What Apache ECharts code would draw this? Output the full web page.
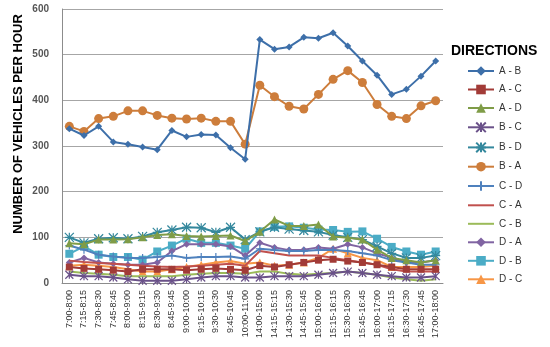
<!DOCTYPE html>
<html>
<head>
    <meta charset="utf-8" />
    <script src="https://cdn.jsdelivr.net/npm/echarts@6/dist/echarts.min.js"></script>
    <style>
        body { margin: 0; background: #fff; }
        #main { width: 550px; height: 347px; }
    </style>
</head>
<body>
    <div id="main"></div>
    <script type="text/javascript">
        // time periods (x axis)
        var periods = ['7:00-8:00', '7:15-8:15', '7:30-8:30', '7:45-8:45', '8:00-9:00', '8:15-9:15',
            '8:30-9:30', '8:45-9:45', '9:00-10:00', '9:15-10:15', '9:30-10:30', '9:45-10:45',
            '10:00-11:00', '14:00-15:00', '14:15-15:15', '14:30-15:30', '14:45-15:45', '15:00-16:00',
            '15:15-16:15', '15:30-16:30', '15:45-16:45', '16:00-17:00', '16:15-17:15', '16:30-17:30',
            '16:45-17:45', '17:00-18:00'];

        var yTicks = [0, 100, 200, 300, 400, 500, 600];

        // vehicles per hour by direction
        var AB = [338, 323, 343, 309, 304, 298, 292, 334, 320, 325, 324, 296, 271, 533, 512, 517, 538, 536, 548, 519, 486, 455, 413, 424, 453, 486];
        var AC = [35, 32, 30, 28, 25, 30, 30, 30, 28, 30, 32, 30, 28, 38, 35, 40, 45, 50, 52, 48, 45, 40, 35, 30, 30, 30];
        var AD = [87, 85, 95, 95, 96, 100, 105, 107, 103, 102, 103, 104, 92, 112, 139, 125, 125, 128, 102, 99, 95, 73, 55, 50, 45, 50];
        var BC = [18, 15, 15, 12, 8, 5, 5, 5, 8, 12, 15, 15, 12, 12, 15, 15, 15, 18, 22, 25, 22, 18, 15, 12, 12, 15];
        var BD = [100, 88, 97, 99, 97, 102, 111, 116, 122, 121, 111, 122, 95, 112, 122, 118, 115, 112, 105, 100, 95, 80, 65, 55, 55, 60];
        var BA = [343, 332, 360, 365, 377, 377, 367, 361, 359, 361, 354, 354, 304, 433, 408, 387, 381, 413, 446, 465, 439, 391, 365, 360, 388, 399];
        var CD = [82, 73, 62, 58, 55, 55, 57, 60, 55, 57, 57, 58, 53, 75, 72, 70, 70, 72, 72, 70, 65, 60, 50, 45, 40, 40];
        var CA = [49, 46, 44, 42, 40, 38, 36, 35, 36, 38, 40, 42, 38, 70, 65, 60, 60, 60, 55, 50, 45, 40, 30, 25, 25, 25];
        var CB = [25, 22, 20, 18, 15, 15, 15, 15, 18, 20, 22, 22, 20, 25, 25, 20, 18, 20, 22, 25, 22, 18, 12, 8, 5, 8];
        var DA = [45, 55, 45, 42, 40, 40, 45, 70, 85, 85, 85, 80, 60, 88, 78, 72, 73, 78, 75, 85, 78, 65, 55, 45, 45, 50];
        var DB = [64, 80, 62, 57, 57, 51, 69, 82, 97, 88, 88, 82, 75, 113, 123, 124, 121, 117, 116, 112, 113, 97, 79, 69, 62, 69];
        var DC = [38, 40, 38, 35, 30, 25, 25, 30, 35, 40, 45, 48, 42, 45, 38, 40, 45, 55, 75, 65, 55, 50, 35, 35, 35, 38];

        var directions = ['A - B', 'A - C', 'A - D', 'B - C', 'B - D', 'B - A', 'C - D', 'C - A', 'C - B', 'D - A', 'D - B', 'D - C'];
        var values = [AB, AC, AD, BC, BD, BA, CD, CA, CB, DA, DB, DC];
        var colors = ['#3D6FA9', '#A23B37', '#7F9C47', '#6A5189', '#34889D', '#CD7D3B',
            '#4F81BD', '#C0504D', '#9BBB59', '#8064A2', '#4BACC6', '#F79646'];
        var symbols = ['diamond', 'rect', 'triangle',
            'path://M0,0L10,10M10,0L0,10M5,0L5,10',
            'path://M0,0L10,10M10,0L0,10M5,0L5,10M0,5L10,5',
            'circle',
            'path://M5,0L5,10M0,5L10,5',
            'none', 'none', 'diamond', 'rect', 'triangle'];
        var sizes = [7, 7, 8, 8, 9, 9, 8, 0, 0, 7, 8, 8];

        var series = [];
        var legendData = [];
        for (var i = 0; i < directions.length; i++) {
            var lineSym = symbols[i].indexOf('path://') == 0;
            series.push({
                name: directions[i],
                type: 'line',
                data: values[i],
                symbol: symbols[i],
                symbolSize: sizes[i],
                showAllSymbol: true,
                lineStyle: { color: colors[i], width: 2 },
                itemStyle: lineSym
                    ? { color: colors[i], borderColor: colors[i], borderWidth: 1.2 }
                    : { color: colors[i], borderWidth: 0 },
                z: 20 - i
            });
            if (symbols[i] == 'none') {
                // plain line in the legend, no marker
                legendData.push({ name: directions[i], itemStyle: { opacity: 0 } });
            } else {
                legendData.push({ name: directions[i] });
            }
        }
        // draw the two big ones on top
        series[0].z = 30;
        series[5].z = 29;

        var myChart = echarts.init(document.getElementById('main'));
        var option = {
            animation: false,
            backgroundColor: '#fff',
            grid: { left: 62, right: 107, top: 9, bottom: 64 },
            legend: {
                orient: 'vertical',
                left: 462,
                top: 61,
                itemWidth: 26,
                itemHeight: 12,
                itemGap: 8.5,
                data: legendData,
                textStyle: { fontFamily: 'Arial', fontSize: 10, color: '#333' }
            },
            graphic: [
                {
                    type: 'text',
                    left: 451,
                    top: 44,
                    style: { text: 'DIRECTIONS', font: 'bold 14px Arial', fill: '#000' }
                },
                {
                    type: 'text',
                    x: 18,
                    y: 124,
                    rotation: Math.PI / 2,
                    style: {
                        text: 'NUMBER OF VEHICLES PER HOUR',
                        font: 'bold 13px Arial',
                        fill: '#000',
                        align: 'center',
                        verticalAlign: 'middle'
                    }
                }
            ],
            xAxis: {
                type: 'category',
                data: periods,
                boundaryGap: true,
                axisLine: { lineStyle: { color: '#8C8C8C', width: 1 } },
                axisTick: { show: false },
                axisLabel: {
                    rotate: 90,
                    interval: 0,
                    margin: 7,
                    fontFamily: 'Arial',
                    fontSize: 9,
                    color: '#333'
                }
            },
            yAxis: {
                type: 'value',
                min: yTicks[0],
                max: yTicks[yTicks.length - 1],
                interval: 100,
                axisLine: { show: true, lineStyle: { color: '#8C8C8C', width: 1 } },
                axisTick: { show: false },
                splitLine: { lineStyle: { color: '#A6A6A6', width: 1 } },
                axisLabel: {
                    margin: 13,
                    fontFamily: 'Arial',
                    fontSize: 10,
                    fontWeight: 'bold',
                    color: '#555'
                }
            },
            series: series
        };
        myChart.setOption(option);
    </script>
</body>
</html>
